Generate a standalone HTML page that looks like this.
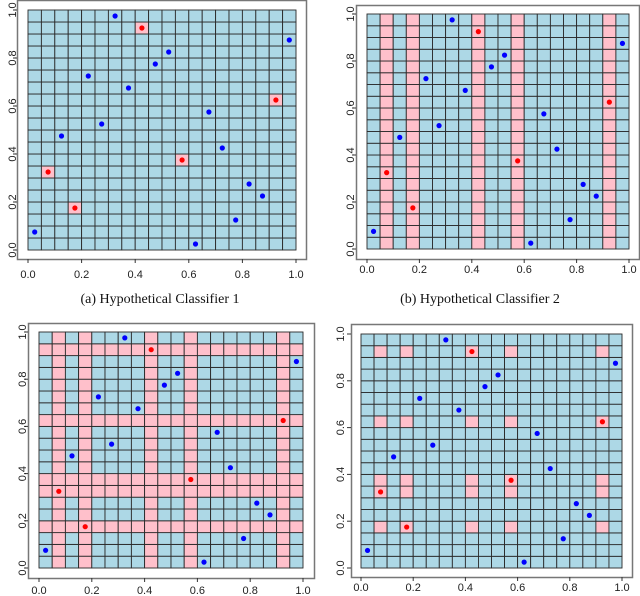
<!DOCTYPE html>
<html><head><meta charset="utf-8"><style>
body{margin:0;background:#fff;}
svg{display:block;}
</style></head><body>
<svg id="fig" width="640" height="596" viewBox="0 0 640 596" xmlns="http://www.w3.org/2000/svg"></svg>
<script>
// Data
const blueX = [0.025,0.125,0.225,0.275,0.325,0.375,0.475,0.525,0.625,0.675,0.725,0.775,0.825,0.875,0.975];
const blueY = [0.075,0.475,0.725,0.525,0.975,0.675,0.775,0.825,0.025,0.575,0.425,0.125,0.275,0.225,0.875];
const redX = [0.075,0.175,0.425,0.575,0.925];
const redY = [0.325,0.175,0.925,0.375,0.625];
const tickLabels = ["0.0","0.2","0.4","0.6","0.8","1.0"];
const tickValues = [0,0.2,0.4,0.6,0.8,1.0];
const nCells = 20;

const NS="http://www.w3.org/2000/svg";
const svg=document.getElementById('fig');
function mk(tag,attrs,parent){const e=document.createElementNS(NS,tag);for(const k in attrs)e.setAttribute(k,attrs[k]);(parent||svg).appendChild(e);return e;}

const panels=[
 {name:'panel-a',mode:'cells',frame:[17,0,306,259],plot:[28,10,296,250],xly:278,ylx:12,cap:'(a) Hypothetical Classifier 1',capx:160,capy:303},
 {name:'panel-b',mode:'cols',frame:[356,5,639,259],plot:[367,14,629,249],xly:273,ylx:350,cap:'(b) Hypothetical Classifier 2',capx:480,capy:303},
 {name:'panel-c',mode:'cross',frame:[28,323,314,578],plot:[39,332,303,568],xly:594,ylx:22,cap:null},
 {name:'panel-d',mode:'grid',frame:[351,324,632,577],plot:[361,334,622,568],xly:591,ylx:340,cap:null}
];

const cellOf=v=>Math.floor(v*nCells);

panels.forEach(p=>{
  const g=mk('g',{});
  
  
  const [x0,y0,x1,y1]=p.plot;
  const sx=v=>x0+v*(x1-x0);
  const sy=v=>y1-v*(y1-y0);
  const fr=mk('rect',{x:p.frame[0]+0.5,y:p.frame[1]+0.5,width:p.frame[2]-p.frame[0],height:p.frame[3]-p.frame[1],fill:'#fff',stroke:'#777','stroke-width':1.5},g);
  
  
  const rc=redX.map(cellOf), rr=redY.map(cellOf);
  const pairs=new Set(redX.map((v,i)=>cellOf(v)+','+cellOf(redY[i])));
  for(let i=0;i<nCells;i++)for(let j=0;j<nCells;j++){
    let pink=false;
    if(p.mode==='cells')pink=pairs.has(i+','+j);
    else if(p.mode==='cols')pink=rc.includes(i);
    else if(p.mode==='cross')pink=rc.includes(i)||rr.includes(j);
    else pink=rc.includes(i)&&rr.includes(j);
    const c=mk('rect',{x:sx(i/nCells),y:sy((j+1)/nCells),width:(x1-x0)/nCells,height:(y1-y0)/nCells,fill:pink?'#ffc0cb':'#add8e6',stroke:'#2a2a2a','stroke-width':0.9},g);
    
    
  }
  tickValues.forEach((v,k)=>{
    const t=mk('line',{x1:sx(v),x2:sx(v),y1:p.frame[3],y2:p.frame[3]+4,stroke:'#333'},g);
    
    
    const tx=mk('text',{x:sx(v),y:p.xly,'text-anchor':'middle','font-size':11,'font-family':'Liberation Sans, sans-serif',fill:'#222'},g);
    tx.textContent=tickLabels[k];
    
    
    const yt=mk('line',{x1:p.frame[0]-4,x2:p.frame[0],y1:sy(v),y2:sy(v),stroke:'#333'},g);
    
    
    const ty=mk('text',{x:p.ylx,y:sy(v),'text-anchor':'middle','font-size':11,'font-family':'Liberation Sans, sans-serif',fill:'#222',transform:`rotate(-90 ${p.ylx} ${sy(v)})`,dy:4},g);
    ty.textContent=tickLabels[k];
    
    
  });
  blueX.forEach((v,i)=>{
    const c=mk('circle',{cx:sx(v),cy:sy(blueY[i]),r:2.6,fill:'#0000ff'},g);
    
    
  });
  redX.forEach((v,i)=>{
    const c=mk('circle',{cx:sx(v),cy:sy(redY[i]),r:2.6,fill:'#ff0000'},g);
    
    
  });
  if(p.cap){
    const t=mk('text',{x:p.capx,y:p.capy,'text-anchor':'middle','font-size':14,'font-family':'Liberation Serif, serif',fill:'#111'},svg);
    t.textContent=p.cap;
    
    
  }
});
</script>
</body></html>
